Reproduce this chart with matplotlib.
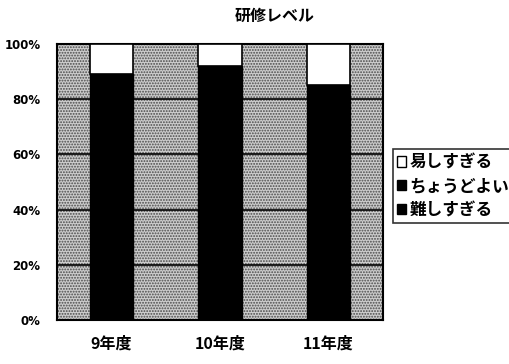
import matplotlib
matplotlib.use("Agg")
import matplotlib.pyplot as plt
import numpy as np
from matplotlib.patches import Patch

plt.rcParams['font.family'] = ['Noto Sans CJK JP', 'DejaVu Sans']
plt.rcParams['hatch.linewidth'] = 0.9

# data (percent of respondents)
years = ["9年度", "10年度", "11年度"]
too_hard = [2, 1, 2]        # 難しすぎる
just_right = [87, 91, 83]   # ちょうどよい
too_easy = [11, 8, 15]      # 易しすぎる
series_names = ["易しすぎる", "ちょうどよい", "難しすぎる"]

fig = plt.figure(figsize=(5.09, 3.64), dpi=100)
ax = fig.add_axes([0.112, 0.121, 0.64, 0.758])

ax.patch.set_facecolor('#cccccc')
ax.patch.set_hatch('......')
ax.patch.set_edgecolor('#4a4a4a')

x = np.arange(len(years))
w = 0.4
b1 = np.array(too_hard)
b2 = b1 + np.array(just_right)
ax.bar(x, too_hard, w, color='black', edgecolor='black', zorder=3)
ax.bar(x, just_right, w, bottom=b1, color='black', edgecolor='black', zorder=3)
ax.bar(x, too_easy, w, bottom=b2, color='white', edgecolor='black', linewidth=1.2, zorder=3)

ax.set_xlim(-0.5, 2.5)
ax.set_ylim(0, 100)
ax.set_yticks(range(0, 101, 20))
ax.set_yticklabels([f"{v}%" for v in range(0, 101, 20)], fontsize=8.5, fontweight='bold',
                   family=['DejaVu Sans'])
ax.set_xticks(x)
ax.set_xticklabels(years, fontsize=11.5, fontweight='bold')
ax.tick_params(length=0)
ax.tick_params(axis='x', pad=11)
ax.tick_params(axis='y', pad=12)
ax.yaxis.grid(True, color='black', linewidth=1.2, zorder=2)
ax.set_axisbelow(True)
for s in ax.spines.values():
    s.set_linewidth(1.5)

fig.text(0.54, 0.955, "研修レベル", ha='center', va='center', fontsize=11.5, fontweight='bold')

handles = [Patch(facecolor='white', edgecolor='black'),
           Patch(facecolor='black', edgecolor='black'),
           Patch(facecolor='black', edgecolor='black')]
leg = fig.legend(handles, series_names, loc='upper left', bbox_to_anchor=(0.772, 0.59),
                 frameon=True, fancybox=False, edgecolor='black',
                 prop={'weight': 'bold', 'size': 12}, handlelength=0.55, handleheight=0.55,
                 handletextpad=0.2, borderpad=0.25, labelspacing=0.35, borderaxespad=0)
leg.get_frame().set_linewidth(1.2)

fig.savefig("out.png", dpi=100)
